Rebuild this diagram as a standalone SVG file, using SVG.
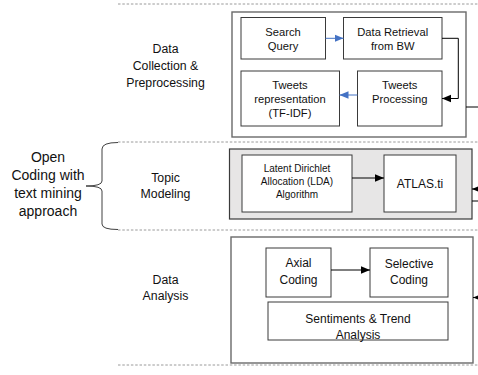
<svg xmlns="http://www.w3.org/2000/svg" width="478" height="375" viewBox="0 0 478 375">
<style>
text{font-family:"Liberation Sans",Arial,sans-serif;fill:#111;text-anchor:middle}
.sec{font-size:12.3px}
.big{font-size:14px}
.n{font-size:11.2px}
.sm{font-size:10px}
.n12{font-size:12px}
.outer{fill:#fff;stroke:#6a6a6a;stroke-width:1.4}
.node{fill:#fff;stroke:#3a3a3a;stroke-width:1}
.dash{stroke:#9a9a9a;stroke-width:1;stroke-dasharray:2.5,1.8;fill:none}
.conn{fill:none;stroke:#000;stroke-width:1}
.blue{fill:none;stroke:#4472c4;stroke-width:1}
</style>
<defs>
<marker id="ah" markerUnits="userSpaceOnUse" markerWidth="9" markerHeight="9" viewBox="0 0 9 9" refX="9" refY="4.5" orient="auto">
<path d="M0,0.8 L9,4.5 L0,8.2 Z" fill="#000"/>
</marker>
<marker id="ahb" markerUnits="userSpaceOnUse" markerWidth="9" markerHeight="9" viewBox="0 0 9 9" refX="9" refY="4.5" orient="auto">
<path d="M0,0.8 L9,4.5 L0,8.2 Z" fill="#4472c4"/>
</marker>
</defs>

<g id="separators">
<line class="dash" x1="118" y1="4" x2="478" y2="4"/>
<line class="dash" x1="118" y1="142" x2="478" y2="142"/>
<line class="dash" x1="118" y1="230" x2="478" y2="230"/>
<line class="dash" x1="118" y1="365" x2="478" y2="365"/>
</g>

<g id="brace">
<path d="M118,142.5 Q102,142.5 102,149 L102,181 Q102,186 86,186 Q102,186 102,191 L102,224 Q102,229.5 118,229.5" fill="none" stroke="#404040" stroke-width="1"/>
<text class="big" x="48" y="162">Open</text>
<text class="big" x="48" y="180">Coding with</text>
<text class="big" x="48" y="198">text mining</text>
<text class="big" x="48" y="216">approach</text>
</g>

<g id="label-collection">
<text class="sec" x="165.5" y="53">Data</text>
<text class="sec" x="165.5" y="70">Collection &amp;</text>
<text class="sec" x="165.5" y="87">Preprocessing</text>
</g>
<g id="label-topic">
<text class="sec" x="165.5" y="182">Topic</text>
<text class="sec" x="165.5" y="198">Modeling</text>
</g>
<g id="label-analysis">
<text class="sec" x="165.5" y="284">Data</text>
<text class="sec" x="165.5" y="300">Analysis</text>
</g>

<g id="box-collection"><rect class="outer" x="232" y="12" width="234" height="125"/></g>
<g id="box-topic"><rect x="229.5" y="149" width="242.5" height="70" fill="#e7e6e6" stroke="#3a3a3a" stroke-width="1.2"/></g>
<g id="box-analysis"><rect class="outer" x="231" y="237" width="242" height="126"/></g>

<g id="search-query">
<rect class="node" x="241" y="17.5" width="84.5" height="41.5"/>
<text class="n" x="283" y="36">Search</text>
<text class="n" x="283" y="49.5">Query</text>
</g>
<g id="data-retrieval">
<rect class="node" x="343.5" y="17.5" width="98.5" height="41.5"/>
<text class="n" x="392.7" y="36">Data Retrieval</text>
<text class="n" x="392.7" y="49.5">from BW</text>
</g>
<g id="tweets-representation">
<rect class="node" x="241" y="71" width="98.5" height="55"/>
<text class="n" x="290" y="89">Tweets</text>
<text class="n" x="290" y="103">representation</text>
<text class="n" x="290" y="117">(TF-IDF)</text>
</g>
<g id="tweets-processing">
<rect class="node" x="357.5" y="71" width="84.5" height="55"/>
<text class="n" x="399.7" y="89">Tweets</text>
<text class="n" x="399.7" y="103">Processing</text>
</g>

<g id="lda">
<rect class="node" x="242" y="155" width="110" height="57"/>
<text class="sm" x="297" y="172">Latent Dirichlet</text>
<text class="sm" x="297" y="185">Allocation (LDA)</text>
<text class="sm" x="297" y="198">Algorithm</text>
</g>
<g id="atlas">
<rect class="node" x="384" y="155" width="72" height="57"/>
<text class="n12" x="420" y="188">ATLAS.ti</text>
</g>

<g id="axial">
<rect class="node" x="266" y="248" width="65" height="49"/>
<text class="n12" x="298.5" y="267">Axial</text>
<text class="n12" x="298.5" y="284">Coding</text>
</g>
<g id="selective">
<rect class="node" x="370" y="248" width="78" height="49"/>
<text class="n12" x="409" y="267.5">Selective</text>
<text class="n12" x="409" y="284">Coding</text>
</g>
<g id="sentiments">
<rect class="node" x="268" y="302" width="180" height="38"/>
<text class="n12" x="358" y="323">Sentiments &amp; Trend</text>
<text class="n12" x="358" y="339">Analysis</text>
</g>

<g id="connectors">
<path class="blue" d="M325.5,38.3 H343.5" marker-end="url(#ahb)"/>
<path class="conn" d="M442,38.3 H458.3 V98.5 H442" marker-end="url(#ah)"/>
<path class="blue" d="M357.5,95 H339.5" marker-end="url(#ahb)"/>
<path class="conn" d="M352,178 H384" marker-end="url(#ah)"/>
<path class="conn" d="M331,270 H370" marker-end="url(#ah)"/>
<path class="conn" d="M466,107 H488 V189 H472" marker-end="url(#ah)"/>
<path class="conn" d="M472,201 H488 V297.5 H473" marker-end="url(#ah)"/>
</g>
</svg>
